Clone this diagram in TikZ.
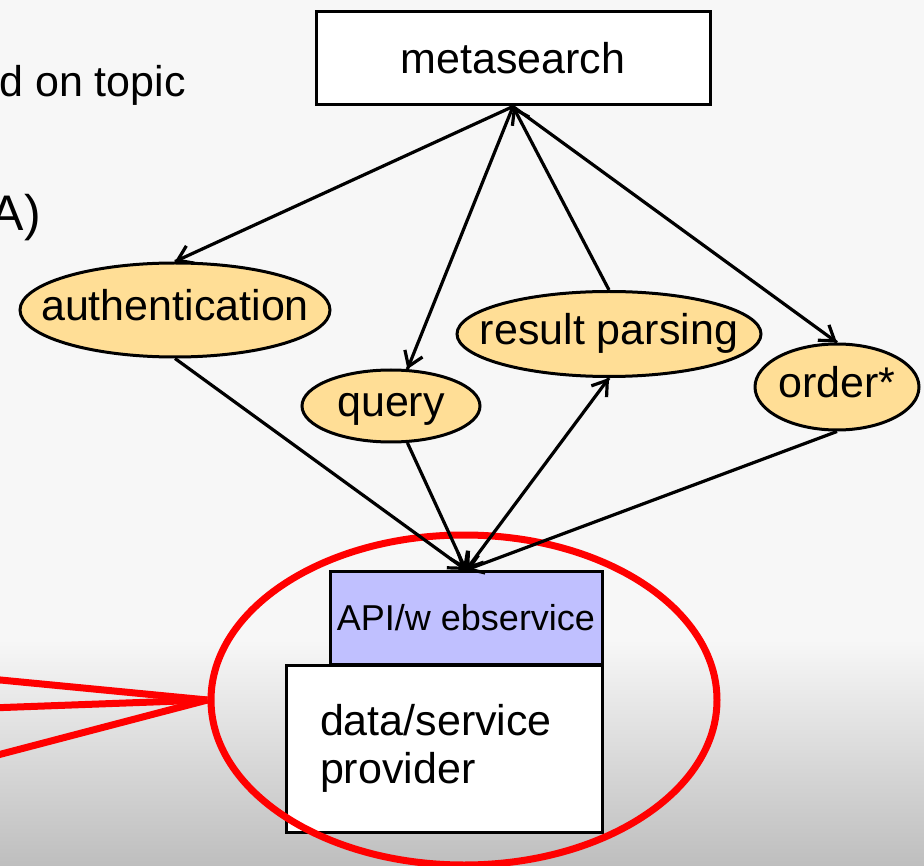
\documentclass[tikz,border=0pt]{standalone}
\usepackage{fontspec}
\setmainfont{Liberation Sans}
\usetikzlibrary{arrows}
\usetikzlibrary{arrows.meta}
\usetikzlibrary{decorations.markings}
\usetikzlibrary{shapes.geometric}
\tikzset{->/.style = {decoration={markings,
                                  mark=at position 1 with {\arrow{Straight Barb[length=14pt, width=19pt, line width=3.2pt]}}},
                      postaction={decorate}}}
\tikzset{<->/.style = {decoration={markings,
                                   mark=at position 0 with {\arrowreversed{Straight Barb[length=14pt, width=19pt, line width=3.2pt]}},
                                   mark=at position 1 with {\arrow{Straight Barb[length=14pt, width=19pt, line width=3.2pt]}}},
                       postaction={decorate}}}
\tikzset{task/.style = {ellipse, draw, line width=3pt, fill=mtask, inner xsep=-60pt, inner ysep=0pt,
                        font=\fontsize{43}{48}\selectfont, text height=31pt, text depth=9pt},
         box/.style = {rectangle, draw, line width=3pt, inner sep=0pt},
         link/.style = {line width=3.2pt}}
\definecolor{mtask}{RGB}{255, 222, 150}
\definecolor{mapi}{RGB}{192, 192, 255}
\definecolor{mred}{RGB}{255, 0, 0}
\definecolor{bgtop}{RGB}{247, 247, 247}
\definecolor{bgbot}{RGB}{190, 190, 190}

\begin{document}
\begin{tikzpicture}[x=1pt, y=-1pt]
    \useasboundingbox (0, 0) rectangle (924, 866);
    \clip (0, 0) rectangle (924, 866);
    \fill [bgtop] (0, 0) rectangle (924, 641);
    \shade [top color=bgtop, bottom color=bgbot] (0, 640) rectangle (924, 866);

    \node [anchor=base east, inner sep=0pt, font=\fontsize{43}{48}\selectfont] (topic) at (186, 97) {d on topic};
    \node [anchor=base east, inner sep=0pt, font=\fontsize{50}{56}\selectfont] (abbr) at (41, 231) {A)};

    \node [box, fill=white, minimum width=394pt, minimum height=93pt,
           font=\fontsize{43}{48}\selectfont] (meta) at (513, 58.5) {metasearch};
    \node [task, minimum width=310pt, minimum height=94pt] (auth) at (175, 310) {authentication};
    \node [task, minimum width=178pt, minimum height=72pt] (query) at (391, 406) {query};
    \node [task, minimum width=304pt, minimum height=85pt] (parse) at (609, 334) {result parsing};
    \node [task, minimum width=164pt, minimum height=86pt] (order) at (837, 387) {order*};

    \node [box, fill=mapi, minimum width=272pt, minimum height=93pt,
           font=\fontsize{36}{40}\selectfont] (api) at (466, 618) {API/w ebservice};
    \node [box, fill=white, minimum width=316pt, minimum height=167pt, text width=248pt, align=left,
           font=\fontsize{43}{48}\selectfont] (provider) at (444, 748.5) {data/service\\provider};

    \node [ellipse, draw=mred, line width=7pt, minimum width=506pt, minimum height=330pt] (ring) at (464, 700) {};
    \coordinate (left1) at (-10, 679);
    \coordinate (left2) at (-10, 708);
    \coordinate (left3) at (-10, 757);
    \draw [mred, line width=7pt] (ring.west) -- (left1);
    \draw [mred, line width=7pt] (ring.west) -- (left2);
    \draw [mred, line width=7pt] (ring.west) -- (left3);

    \draw [->, link] (meta.south) -- (auth.north);
    \draw [->, link] (meta.south) -- (query.66);
    \draw [->, link] (parse.north) -- (meta.south);
    \draw [->, link] (meta.south) -- (order.north);

    \draw [->, link] (auth.south) -- (api.north);
    \draw [->, link] (query.-66) -- (api.north);
    \draw [<->, link] (api.north) -- (parse.south);
    \draw [->, link] (order.south) -- (api.north);
  \end{tikzpicture}
\end{document}
